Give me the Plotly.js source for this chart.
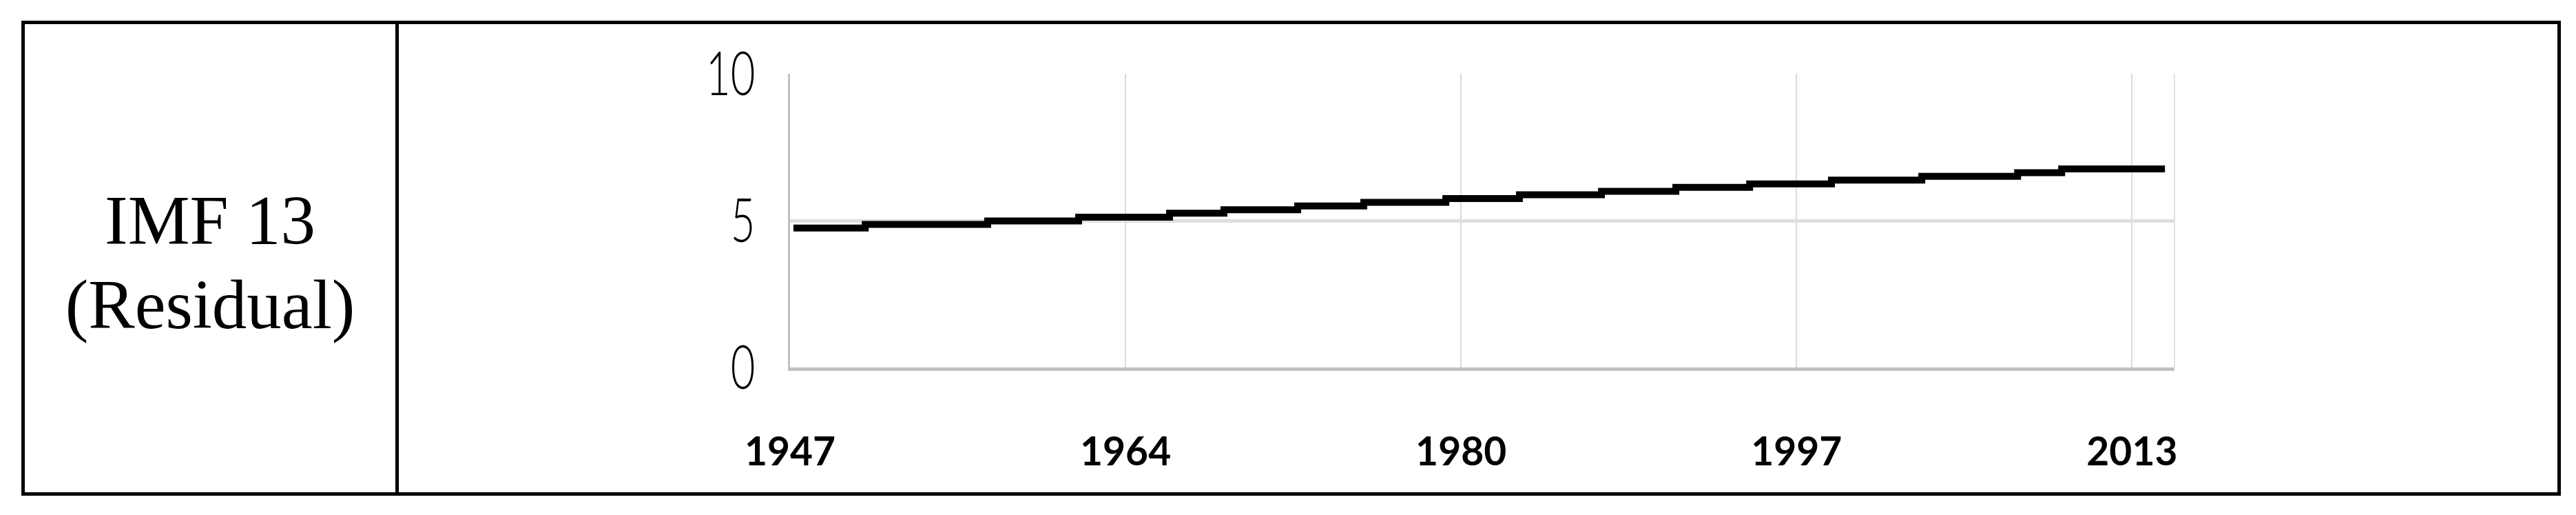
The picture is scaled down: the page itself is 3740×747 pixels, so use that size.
<!DOCTYPE html>
<html>
<head>
<meta charset="utf-8">
<script src="https://cdn.plot.ly/plotly-3.0.1.min.js"></script>
<style>
  html, body { margin: 0; padding: 0; background: #fff; overflow: hidden; width: 3740px; height: 747px; }
  .box { position: absolute; left: 31px; top: 30px; width: 3687px; height: 689px; border: 5px solid #000; box-sizing: border-box; }
  .divider { position: absolute; left: 574px; top: 30px; width: 5px; height: 689px; background: #000; }
  .label {
    position: absolute; left: 36px; top: 42px; width: 538px; height: 679px;
    display: flex; align-items: center; justify-content: center; text-align: center;
    font-family: "Liberation Serif", serif; font-size: 101px; line-height: 1.2; color: #000;
  }
  #chart { position: absolute; left: 579px; top: 35px; }
</style>
</head>
<body>
<div class="box"></div>
<div class="divider"></div>
<div class="label"><div>IMF 13<br>(Residual)</div></div>
<div id="chart"></div>
<script>
// residual trend (step start year -> level)
const years = [1947.17, 1950.72, 1956.78, 1961.28, 1965.78, 1968.47, 1972.12, 1975.39, 1979.45,
               1983.09, 1987.15, 1990.83, 1994.48, 1998.53, 2003.0, 2007.74, 2009.92, 2015.03];
const residual = [4.75, 4.87, 4.99, 5.12, 5.25, 5.37, 5.50, 5.62, 5.75,
                  5.88, 6.00, 6.13, 6.25, 6.38, 6.51, 6.63, 6.76, 6.76];

const xTickVals = [1947, 1963.6, 1980.2, 1996.8, 2013.4];
const xTickText = ['1947', '1964', '1980', '1997', '2013'];
const yTickVals = [0, 5, 10];

const trace = {
    x: years,
    y: residual,
    type: 'scatter',
    mode: 'lines',
    line: { color: '#000', width: 10, shape: 'hv' },
    hoverinfo: 'skip'
};

const layout = {
    width: 3134,
    height: 679,
    margin: { l: 1147 - 579, r: 3713 - 3157, t: 72, b: 180.5 },
    paper_bgcolor: 'rgba(0,0,0,0)',
    plot_bgcolor: 'rgba(0,0,0,0)',
    showlegend: false,
    xaxis: {
        range: [1947, 2015.5],
        tickvals: xTickVals,
        ticktext: xTickText,
        showgrid: true,
        gridcolor: '#dadada',
        gridwidth: 2,
        showline: true,
        linecolor: '#bfbfbf',
        linewidth: 5,
        zeroline: false,
        ticks: '',
        ticklabelstandoff: 69,
        tickfont: { family: 'Lato, sans-serif', size: 57, weight: 700, color: '#000' }
    },
    yaxis: {
        range: [0, 10],
        tickvals: yTickVals,
        showgrid: true,
        gridcolor: '#dedede',
        gridwidth: 5,
        showline: true,
        linecolor: '#c0c0c0',
        linewidth: 3,
        zeroline: false,
        ticks: '',
        ticklabelstandoff: 30,
        tickfont: { family: 'Lato, sans-serif', size: 88, weight: 300, color: '#000' }
    },
    shapes: [{
        type: 'line', xref: 'paper', yref: 'paper',
        x0: 1, x1: 1, y0: 0, y1: 1,
        line: { color: '#e0e0e0', width: 2 }
    }]
};

Plotly.newPlot('chart', [trace], layout, { staticPlot: true, displayModeBar: false }).then(gd => {
    // the value labels in the source use a tall condensed face
    gd.querySelectorAll('.ytick text').forEach(t => {
        const w = t.getComputedTextLength();
        t.setAttribute('textLength', (w * 0.7).toFixed(1));
        t.setAttribute('lengthAdjust', 'spacingAndGlyphs');
    });
});
</script>
</body>
</html>
